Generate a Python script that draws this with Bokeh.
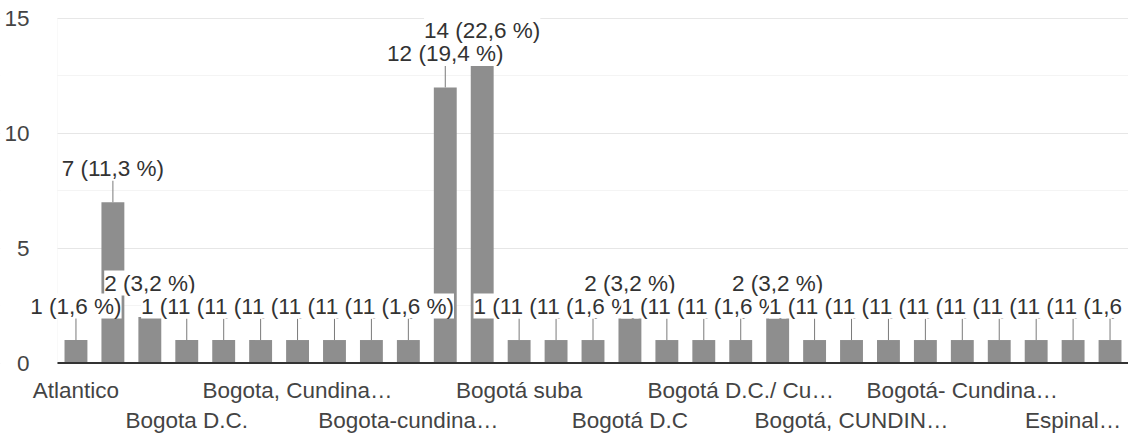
from bokeh.plotting import figure
from bokeh.models import (Range1d, FixedTicker, LinearAxis, ColumnDataSource,
                          LabelSet, BoxAnnotation)
from bokeh.core.properties import value
from bokeh.embed import file_html
from bokeh.resources import INLINE

# ---- data ----
# category names (only every third one is legible in the picture; "" = not shown)
categories = [
    "Atlantico", "", "", "Bogota D.C.", "", "", "Bogota, Cundina…", "", "",
    "Bogota-cundina…", "", "", "Bogotá suba", "", "", "Bogotá D.C", "", "",
    "Bogotá D.C./ Cu…", "", "", "Bogotá, CUNDIN…", "", "", "Bogotá- Cundina…",
    "", "", "Espinal…", "",
]
counts = [1, 7, 2, 1, 1, 1, 1, 1, 1, 1, 12, 14, 1, 1, 1, 2, 1, 1, 1, 2,
          1, 1, 1, 1, 1, 1, 1, 1, 1]
percents = [1.6, 11.3, 3.2, 1.6, 1.6, 1.6, 1.6, 1.6, 1.6, 1.6, 19.4, 22.6,
            1.6, 1.6, 1.6, 3.2, 1.6, 1.6, 1.6, 3.2, 1.6, 1.6, 1.6, 1.6, 1.6,
            1.6, 1.6, 1.6, 1.6]
y_ticks = [0, 5, 10, 15]
y_minor_ticks = [2.5, 7.5, 12.5]

# ---- styling / layout (pixels) ----
FONT = "Liberation Sans"
FS = "22.5px"
W, H = 1128, 436
PLOT_LEFT = 57      # left edge of the chart area
PLOT_TOP = 18       # pixel row of the top gridline
PLOT_BASE = 362.5   # pixel row of the baseline
RAISE = 34          # label centre above bar top (with stem)
DEFAULT = 11        # label centre above bar top (no stem)

n = len(counts)
xs = list(range(n))
x_lo, x_hi = -0.5, n - 0.5
sp = (W - PLOT_LEFT) / n
x_start = x_lo - PLOT_LEFT / sp
y_lo, y_hi = y_ticks[0], y_ticks[-1]
ppu = (PLOT_BASE - PLOT_TOP) / (y_hi - y_lo)
y_start = y_lo - (H - PLOT_BASE) / ppu
y_end = y_hi + PLOT_TOP / ppu

tallest = counts.index(max(counts))
labels = [(f"{c} ({p:.1f} %)").replace(".", ",") for c, p in zip(counts, percents)]
yoff = [(DEFAULT if i == tallest else RAISE) for i in xs]

src = ColumnDataSource(dict(x=xs, top=counts, label=labels, yoff=yoff))
stem_src = ColumnDataSource(dict(
    x=[i for i in xs if i != tallest],
    y0=[counts[i] for i in xs if i != tallest],
    y1=[counts[i] + RAISE / ppu for i in xs if i != tallest],
))

p = figure(width=W, height=H, output_backend="svg", toolbar_location=None,
           x_range=Range1d(x_start, x_hi), y_range=Range1d(y_start, y_end),
           x_axis_location=None,
           min_border_left=0, min_border_right=0,
           min_border_top=0, min_border_bottom=0)
p.outline_line_color = None
p.background_fill_color = "white"
p.border_fill_color = "white"

# y axis, pinned to the left edge of the chart area
yt = FixedTicker(ticks=y_ticks, minor_ticks=y_minor_ticks)
p.yaxis.ticker = yt
p.yaxis.fixed_location = x_lo
p.ygrid.ticker = yt
p.yaxis.axis_line_color = None
p.yaxis.major_tick_line_color = None
p.yaxis.minor_tick_line_color = None
p.yaxis.major_tick_out = 0
p.yaxis.major_tick_in = 0
p.yaxis.major_label_standoff = 24
p.yaxis.major_label_text_font = FONT
p.yaxis.major_label_text_font_size = FS
p.yaxis.major_label_text_color = "#444444"
p.ygrid.grid_line_color = "#e6e6e6"
p.ygrid.minor_grid_line_color = "#f4f4f4"
p.xgrid.visible = False

# blank the grid left of the chart area; faint chart-area edge
p.add_layout(BoxAnnotation(right=x_lo, fill_color="white", fill_alpha=1,
                           line_color=None, level="underlay"))
p.add_layout(BoxAnnotation(left=x_lo, right=x_hi, bottom=y_lo, top=y_hi,
                           fill_alpha=0, line_color="#ececec", line_width=1,
                           level="underlay"))

# staggered category axes, pinned to the baseline
shown = [i for i, c in enumerate(categories) if c]
rows = [shown[0::2], shown[1::2]]
standoffs = [15, 45]
for k, ticks in enumerate(rows):
    ax = LinearAxis(ticker=FixedTicker(ticks=ticks, minor_ticks=[]),
                    major_label_overrides={t: categories[t] for t in ticks},
                    fixed_location=y_lo)
    ax.axis_line_color = None
    ax.major_tick_out = 0
    ax.major_tick_in = 0
    ax.minor_tick_out = 0
    ax.minor_tick_in = 0
    ax.major_tick_line_color = None
    ax.minor_tick_line_color = None
    ax.major_label_standoff = standoffs[k]
    ax.major_label_text_font = FONT
    ax.major_label_text_font_size = FS
    ax.major_label_text_color = "#444444"
    p.add_layout(ax, "below")

# bars, stems
p.vbar(x="x", top="top", bottom=y_lo, width=0.62, source=src,
       fill_color="#8e8e8e", line_color=None)
p.segment(x0="x", y0="y0", x1="x", y1="y1", source=stem_src,
          line_color="#7a7a7a", line_width=1)

# baseline (2 px dark rule across the chart area)
p.add_layout(BoxAnnotation(left=x_lo, right=x_hi, bottom=y_lo - 1 / ppu,
                           top=y_lo + 1 / ppu, fill_color="#333333",
                           fill_alpha=1, line_color=None))

# value labels
p.add_layout(LabelSet(x="x", y="top", text="label", source=src, y_offset="yoff",
                      text_align="center", text_baseline="middle",
                      text_font=value(FONT), text_font_size=value(FS),
                      text_color="#333333", background_fill_color="white"))

open("out.html", "w").write(file_html(p, INLINE))
